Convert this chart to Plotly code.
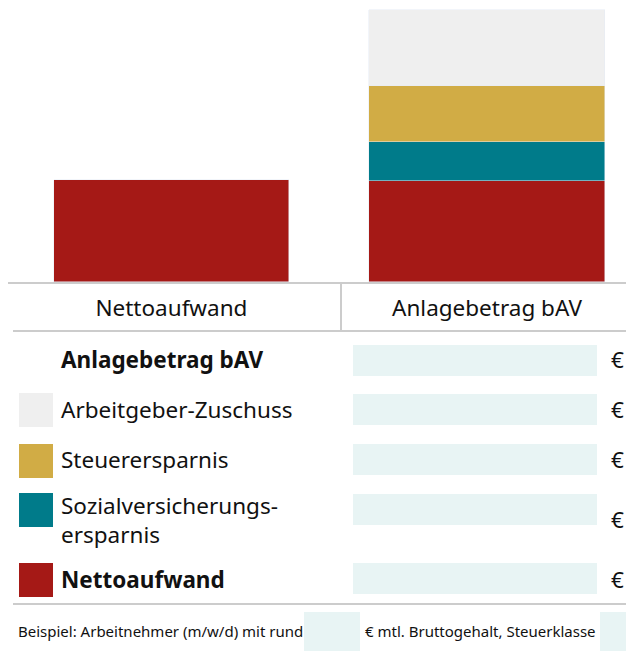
import plotly.graph_objects as go

# The page body adds an 8px margin, so the figure is placed at (8, 8).
OFF = 8
W, H = 634 - OFF, 651 - OFF

categories = ["Nettoaufwand", "Anlagebetrag bAV"]
netto = [102, 101]
sozial = [39]
steuer = [56]
zuschuss = [76]

legend_labels = ["<b>Anlagebetrag bAV</b>", "Arbeitgeber-Zuschuss", "Steuerersparnis",
                 "Sozialversicherungs-<br>ersparnis", "<b>Nettoaufwand</b>"]
footer_a = "Beispiel: Arbeitnehmer (m/w/d) mit rund"
footer_b = "€ mtl. Bruttogehalt, Steuerklasse"

RED, TEAL, GOLD, GREY = "#a51916", "#007b8a", "#d1ac45", "#efefef"
BOX = "#e8f4f4"
LINE = "#cccccc"
FONT = "Noto Sans"
FS = 22.5
FS_FOOT = 15

def px(x):
    return (x - OFF) / W

def py(y):
    return 1 - (y - OFF) / H

fig = go.Figure()
fig.add_bar(x=categories, y=netto, marker_color=RED, width=0.745, name="Nettoaufwand")
fig.add_bar(x=categories[1:], y=sozial, marker_color=TEAL, width=0.745, name="Sozial")
fig.add_bar(x=categories[1:], y=steuer, marker_color=GOLD, width=0.745, name="Steuer")
fig.add_bar(x=categories[1:], y=zuschuss, marker_color=GREY, width=0.745, name="Zuschuss")

shapes = []
annotations = []

shapes.append(dict(type="line", xref="paper", yref="paper", x0=px(341), x1=px(341),
                   y0=py(283), y1=py(331), line=dict(color=LINE, width=2)))
shapes.append(dict(type="line", xref="paper", yref="paper", x0=px(13), x1=1,
                   y0=py(331), y1=py(331), line=dict(color=LINE, width=2)))

rows = [
    (359, None, 345, 376, 359),
    (409, GREY, 394, 425, 409),
    (460, GOLD, 444, 475, 460),
    (520, TEAL, 494, 525, 519),
    (579, RED, 563, 594, 579),
]
for label, (ty, col, b0, b1, ey) in zip(legend_labels, rows):
    if col is not None:
        sy = ty + 1 if col != TEAL else 510
        shapes.append(dict(type="rect", xref="paper", yref="paper", x0=px(19), x1=px(53),
                           y0=py(sy - 17), y1=py(sy + 17), fillcolor=col, line_width=0))
    shapes.append(dict(type="rect", xref="paper", yref="paper", x0=px(353), x1=px(597),
                       y0=py(b0), y1=py(b1), fillcolor=BOX, line_width=0))
    annotations.append(dict(xref="paper", yref="paper", x=px(59), y=py(ty), text=label,
                            showarrow=False, xanchor="left", yanchor="middle", align="left",
                            font=dict(family=FONT, size=FS, color="#111")))
    annotations.append(dict(xref="paper", yref="paper", x=px(617), y=py(ey), text="€",
                            showarrow=False, xanchor="center", yanchor="middle",
                            font=dict(family=FONT, size=FS, color="#111")))

shapes.append(dict(type="line", xref="paper", yref="paper", x0=px(13), x1=1,
                   y0=py(604), y1=py(604), line=dict(color=LINE, width=2)))

shapes.append(dict(type="rect", xref="paper", yref="paper", x0=px(304), x1=px(360),
                   y0=py(612), y1=py(651), fillcolor=BOX, line_width=0))
shapes.append(dict(type="rect", xref="paper", yref="paper", x0=px(600), x1=px(634),
                   y0=py(612), y1=py(651), fillcolor=BOX, line_width=0))
annotations.append(dict(xref="paper", yref="paper", x=px(16), y=py(631), text=footer_a,
                        showarrow=False, xanchor="left", yanchor="middle",
                        font=dict(family=FONT, size=FS_FOOT, color="#111")))
annotations.append(dict(xref="paper", yref="paper", x=px(363), y=py(631), text=footer_b,
                        showarrow=False, xanchor="left", yanchor="middle",
                        font=dict(family=FONT, size=FS_FOOT, color="#111")))

fig.update_layout(
    width=W, height=H, margin=dict(l=0, r=0, t=0, b=0),
    barmode="stack", showlegend=False,
    plot_bgcolor="white", paper_bgcolor="white",
    shapes=shapes, annotations=annotations,
    xaxis=dict(domain=[px(8), 1], range=[-0.518, 1.466], showline=True, linecolor=LINE,
               linewidth=2, ticks="", showgrid=False, zeroline=False,
               tickfont=dict(family=FONT, size=FS, color="#111"), ticklabelstandoff=5),
    yaxis=dict(domain=[py(282), 1], range=[0, 282 - OFF], visible=False, showgrid=False,
               zeroline=False),
    bargap=0,
)

fig.write_html("out.html")
